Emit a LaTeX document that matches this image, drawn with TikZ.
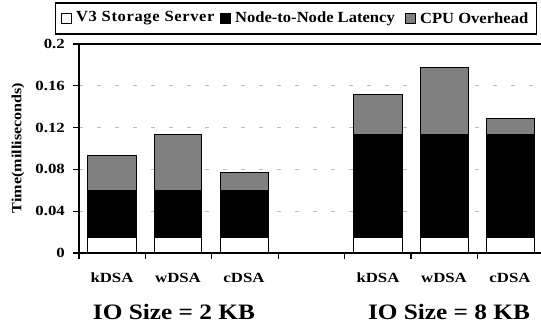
\documentclass[tikz,border=0pt]{standalone}
\usepackage{fontspec}
\setmainfont{Liberation Serif}
\newfontfamily\widefont[FakeStretch=1.2]{Liberation Serif}
\newfontfamily\titlefont[FakeStretch=1.15]{Liberation Serif}
\newfontfamily\legendfont[FakeStretch=1.07]{Liberation Serif}
\newfontfamily\legendspaced[FakeStretch=1.07, LetterSpace=4]{Liberation Serif}
\usetikzlibrary{positioning}
\definecolor{cpugray}{RGB}{128,128,128}
\definecolor{gridgray}{RGB}{190,190,190}

\tikzset{
  bar/.style={draw=black, line width=0.9pt},
  gridline/.style={gridgray, line width=0.9pt, dash pattern=on 4pt off 14pt},
  axisline/.style={black, line width=1.1pt},
  ticklabel/.style={font=\widefont\bfseries\fontsize{14}{14}\selectfont, anchor=east, inner sep=0pt},
  catlabel/.style={font=\widefont\bfseries\fontsize{14}{14}\selectfont, inner sep=0pt},
  grouplabel/.style={font=\titlefont\bfseries\fontsize{22}{22}\selectfont, inner sep=0pt},
  legsq/.style={draw=black, line width=0.7pt, minimum size=10pt, inner sep=0pt},
  legtext/.style={font=\legendfont\bfseries\fontsize{15.5}{15.5}\selectfont, inner sep=0pt, right=4pt},
}

\begin{document}
\begin{tikzpicture}[x=1pt, y=1pt]
  \useasboundingbox (0,-76) rectangle (541,253);

  % Dashed gridlines
  \foreach \v in {0.04,0.08,0.12,0.16}
    \draw[gridline] (79,{\v*1045}) -- (541,{\v*1045});

  % Stacked bars: left, right, latency top, total
  \foreach \xl/\xr/\nl/\tot in {87/136/0.06/0.093, 154/201/0.06/0.1135, 220/268/0.06/0.0775,
                                353/402/0.1135/0.152, 420/468/0.1135/0.1777, 486/534/0.1135/0.129} {
    \draw[bar, fill=white] (\xl,0) rectangle (\xr,{0.015*1045});
    \draw[bar, fill=black] (\xl,{0.015*1045}) rectangle (\xr,{\nl*1045});
    \draw[bar, fill=cpugray] (\xl,{\nl*1045}) rectangle (\xr,{\tot*1045});
  }

  % Axes
  \draw[axisline] (79,0) -- (79,209);
  \draw[axisline] (73,209) -- (541,209);
  \draw[axisline] (79,0) -- (541,0);
  \foreach \v in {0,0.04,0.08,0.12,0.16}
    \draw[axisline] (73,{\v*1045}) -- (79,{\v*1045});
  \foreach \k in {0,...,6}
    \draw[axisline] ({79+66.4*\k},0) -- ({79+66.4*\k},-6);

  % Tick labels
  \foreach \v/\lab [count=\i] in {0/0, 0.04/0.04, 0.08/0.08, 0.12/0.12, 0.16/0.16, 0.2/0.2}
    \node[ticklabel] (ytick\i) at (65,{\v*1045}) {\lab};
  \node[font=\titlefont\bfseries\fontsize{14}{14}\selectfont, rotate=90] (ytitle) at (18,105) {Time(milliseconds)};

  % Category labels
  \foreach \cx/\lab [count=\i] in {112/kDSA, 178/wDSA, 244/cDSA, 378/kDSA, 444/wDSA, 510/cDSA}
    \node[catlabel] (cat\i) at (\cx,-25) {\lab};
  \node[grouplabel] (groupA) at (174,-59) {IO Size = 2 KB};
  \node[grouplabel] (groupB) at (449,-59) {IO Size = 8 KB};

  % Legend
  \node[draw, line width=1.1pt, minimum width=481pt, minimum height=31pt, inner sep=0pt] (legend) at (296,234.5) {};
  \node[legsq, fill=white] (sqA) at (66.5,234.5) {};
  \node[legtext, font=\legendspaced\bfseries\fontsize{15.5}{15.5}\selectfont] (txtA) at (sqA.east) {V3 Storage Server};
  \node[legsq, fill=black] (sqB) at (225.5,234.5) {};
  \node[legtext] (txtB) at (sqB.east) {Node-to-Node Latency};
  \node[legsq, fill=cpugray] (sqC) at (410.5,234.5) {};
  \node[legtext] (txtC) at (sqC.east) {CPU Overhead};
\end{tikzpicture}
\end{document}
